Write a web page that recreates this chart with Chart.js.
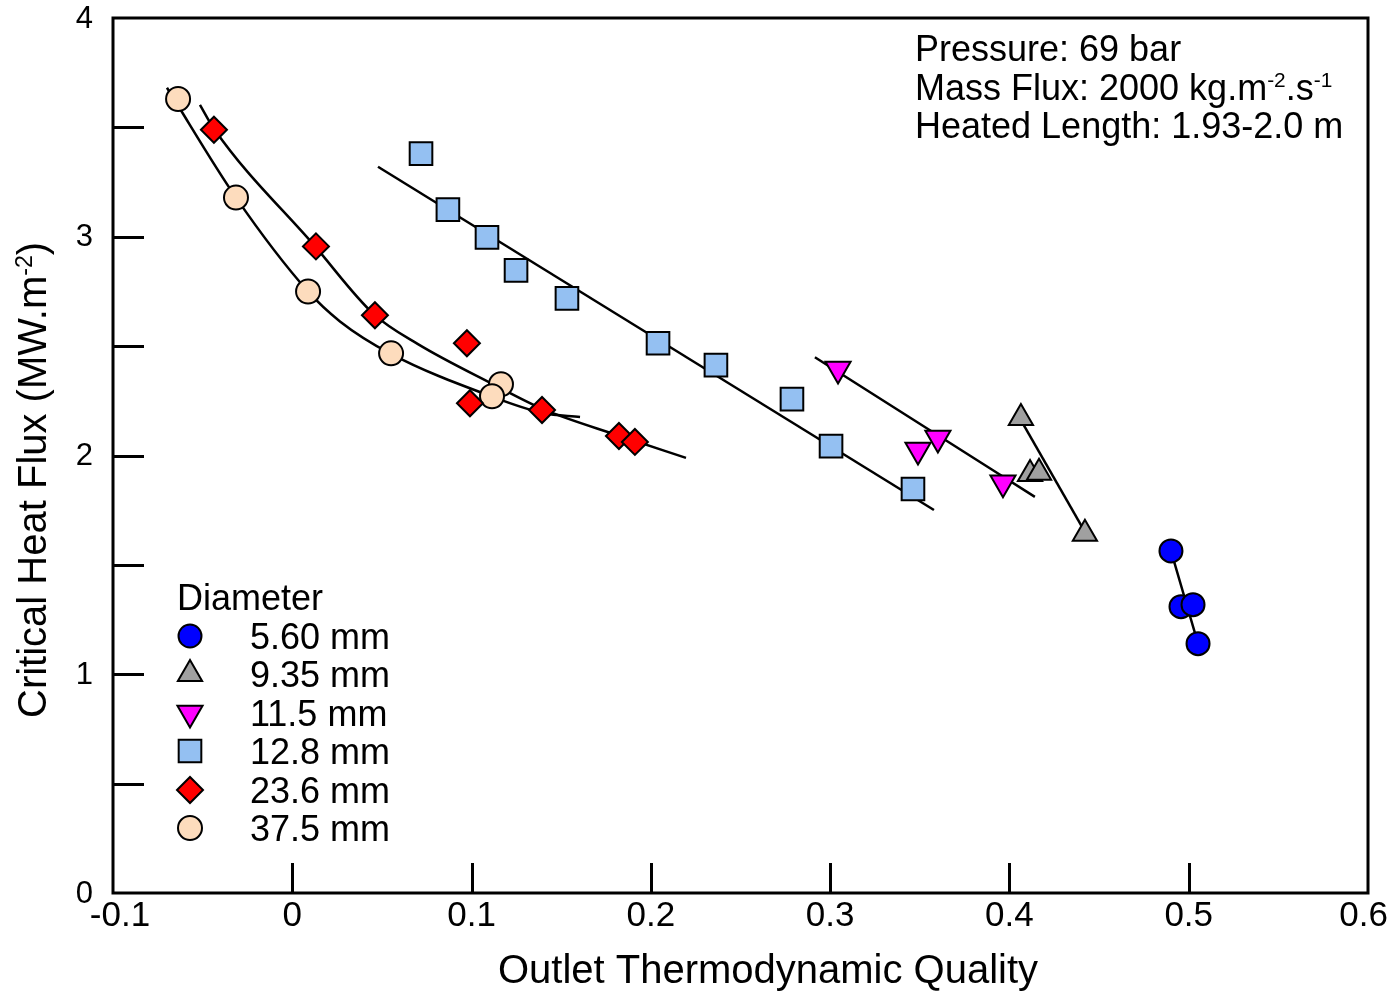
<!DOCTYPE html>
<html>
<head>
<meta charset="utf-8">
<script src="https://cdn.jsdelivr.net/npm/chart.js@4.4.0/dist/chart.umd.min.js"></script>
<style>
  html, body { margin: 0; padding: 0; background: #fff; }
  #wrap { width: 1391px; height: 992px; }
</style>
</head>
<body>
<div id="wrap"><canvas id="chf" width="1391" height="992"></canvas></div>
<script>
// axis ranges
const xMin = -0.1, xMax = 0.6, xStep = 0.1;
const yMin = 0, yMax = 4, yStep = 0.5;

// measured points, one pair of arrays per tube diameter
const d560X = [0.4901, 0.4957, 0.5024, 0.5052];
const d560Y = [1.564, 1.309, 1.318, 1.140];
const d935X = [0.4064, 0.4115, 0.4165, 0.4421];
const d935Y = [2.171, 1.916, 1.921, 1.642];
const d115X = [0.3044, 0.3490, 0.3601, 0.3964];
const d115Y = [2.395, 2.025, 2.080, 1.875];
const d128X = [0.0718, 0.0868, 0.1086, 0.1248, 0.1532, 0.2040, 0.2363, 0.2787, 0.3005, 0.3462];
const d128Y = [3.380, 3.124, 2.997, 2.846, 2.718, 2.513, 2.413, 2.258, 2.043, 1.847];
const d236X = [-0.0437, 0.0132, 0.0461, 0.0974, 0.0991, 0.1393, 0.1822, 0.1911];
const d236Y = [3.489, 2.956, 2.641, 2.513, 2.239, 2.208, 2.089, 2.062];
const d375X = [-0.0637, -0.0314, 0.0088, 0.0551, 0.1164, 0.1114];
const d375Y = [3.630, 3.179, 2.750, 2.467, 2.326, 2.271];

// fitted trend lines
const fit560X = [0.4901, 0.5052];
const fit560Y = [1.564, 1.140];
const fit935X = [0.4064, 0.4421];
const fit935Y = [2.162, 1.651];
const fit115X = [0.2915, 0.4142];
const fit115Y = [2.449, 1.811];
const fit128X = [0.0478, 0.3579];
const fit128Y = [3.320, 1.751];
const fit236X = [-0.0515, -0.0437, 0.0127, 0.0456, 0.0701, 0.1119, 0.1398, 0.1828, 0.2196];
const fit236Y = [3.603, 3.494, 2.956, 2.645, 2.509, 2.326, 2.212, 2.089, 1.989];
const fit375X = [-0.0699, -0.0314, 0.0088, 0.0266, 0.0545, 0.1108, 0.1398, 0.1605];
const fit375Y = [3.681, 3.179, 2.750, 2.613, 2.467, 2.271, 2.194, 2.176];

const legendTitle = 'Diameter';
const seriesLabels = ['5.60 mm', '9.35 mm', '11.5 mm', '12.8 mm', '23.6 mm', '37.5 mm'];
const infoLines = ['Pressure: 69 bar', 'Mass Flux: 2000 kg.m', 'Heated Length: 1.93-2.0 m'];

const FONT = "'Liberation Sans', Arial, sans-serif";

const toXY = (xs, ys) => xs.map((x, i) => ({ x: x, y: ys[i] }));

const styles = [
  { fill: '#0000ff', pointStyle: 'circle', radius: 11.5, rotation: 0 },
  { fill: '#a0a0a0', pointStyle: 'triangle', radius: 14, rotation: 0 },
  { fill: '#ff00ff', pointStyle: 'triangle', radius: 14.5, rotation: 180 },
  { fill: '#94c0f2', pointStyle: 'rect', radius: 16, rotation: 0 },
  { fill: '#ff0000', pointStyle: 'rectRot', radius: 13, rotation: 0 },
  { fill: '#fddcbd', pointStyle: 'circle', radius: 12, rotation: 0 }
];

const pointSets = [toXY(d560X, d560Y), toXY(d935X, d935Y), toXY(d115X, d115Y),
                   toXY(d128X, d128Y), toXY(d236X, d236Y), toXY(d375X, d375Y)];
const fitSets = [toXY(fit560X, fit560Y), toXY(fit935X, fit935Y), toXY(fit115X, fit115Y),
                 toXY(fit128X, fit128Y), toXY(fit236X, fit236Y), toXY(fit375X, fit375Y)];

const datasets = [];
fitSets.forEach((pts, i) => {
  datasets.push({
    label: 'fit ' + seriesLabels[i],
    data: pts,
    showLine: true,
    borderColor: '#000',
    borderWidth: 2.5,
    pointRadius: 0,
    cubicInterpolationMode: 'monotone',
    order: 2
  });
});
pointSets.forEach((pts, i) => {
  const s = styles[i];
  datasets.push({
    label: seriesLabels[i],
    data: pts,
    showLine: false,
    pointStyle: s.pointStyle,
    pointRotation: s.rotation,
    pointRadius: s.radius,
    pointBackgroundColor: s.fill,
    pointBorderColor: '#000',
    pointBorderWidth: 2,
    order: 1
  });
});

// text with superscript pieces, drawn left to right from (x, y)
function drawParts(ctx, parts, x, y, size) {
  let cx = x;
  parts.forEach(p => {
    const fs = p.sup ? size * 0.58 : size;
    ctx.font = fs + 'px ' + FONT;
    ctx.fillText(p.t, cx, p.sup ? y - size * 0.36 : y);
    cx += ctx.measureText(p.t).width;
  });
  return cx;
}

const decorPlugin = {
  id: 'decor',
  afterDraw(chart) {
    const { ctx, chartArea: a, scales } = chart;
    const xs = scales.x, ys = scales.y;
    ctx.save();
    ctx.strokeStyle = '#000';
    ctx.fillStyle = '#000';

    // inward tick marks
    ctx.lineWidth = 3;
    ctx.beginPath();
    ys.ticks.forEach(t => {
      if (t.value <= yMin || t.value >= yMax) return;
      const py = Math.round(ys.getPixelForValue(t.value)) + 0.5;
      ctx.moveTo(a.left, py);
      ctx.lineTo(a.left + 31, py);
    });
    xs.ticks.forEach(t => {
      if (t.value <= xMin + 1e-9 || t.value >= xMax - 1e-9) return;
      const px = Math.round(xs.getPixelForValue(t.value)) + 0.5;
      ctx.moveTo(px, a.bottom);
      ctx.lineTo(px, a.bottom - 30);
    });
    ctx.stroke();

    // frame
    ctx.strokeRect(a.left, a.top, a.right - a.left, a.bottom - a.top);

    // tick labels
    ctx.textBaseline = 'middle';
    ctx.textAlign = 'right';
    ctx.font = '31px ' + FONT;
    ys.ticks.forEach(t => {
      if (Math.abs(t.value - Math.round(t.value)) > 1e-9) return;
      ctx.fillText(String(Math.round(t.value)), a.left - 20, ys.getPixelForValue(t.value) + 1);
    });
    ctx.textAlign = 'center';
    ctx.font = '35px ' + FONT;
    xs.ticks.forEach(t => {
      const txt = String(+t.value.toFixed(1));
      const half = ctx.measureText(txt).width / 2;
      let px = xs.getPixelForValue(t.value);
      px = Math.max(px, a.left + 7);
      px = Math.min(px, chart.width - half - 3);
      ctx.fillText(txt, px, a.bottom + 23);
    });

    // axis titles
    ctx.textBaseline = 'alphabetic';
    ctx.font = '40px ' + FONT;
    ctx.fillText('Outlet Thermodynamic Quality', 768, 983);

    ctx.save();
    ctx.translate(46, 718);
    ctx.rotate(-Math.PI / 2);
    ctx.textAlign = 'left';
    drawParts(ctx, [{ t: 'Critical Heat Flux (MW.m' }, { t: '-2', sup: true }, { t: ')' }], 0, 0, 40);
    ctx.restore();

    // condition box text
    ctx.textAlign = 'left';
    ctx.font = '36px ' + FONT;
    ctx.fillText(infoLines[0], 915, 61);
    drawParts(ctx, [{ t: infoLines[1] }, { t: '-2', sup: true }, { t: '.s' }, { t: '-1', sup: true }], 915, 100, 36);
    ctx.font = '36px ' + FONT;
    ctx.fillText(infoLines[2], 915, 138);

    // legend
    ctx.fillText(legendTitle, 177, 610);
    const rows = [636, 674, 713, 751, 790, 828];
    styles.forEach((s, i) => {
      ctx.fillStyle = s.fill;
      ctx.strokeStyle = '#000';
      ctx.lineWidth = 2;
      Chart.helpers.drawPoint(ctx, { pointStyle: s.pointStyle, rotation: s.rotation, radius: s.radius, borderWidth: 2 }, 190, rows[i]);
      ctx.fillStyle = '#000';
      ctx.font = '36px ' + FONT;
      ctx.fillText(seriesLabels[i], 250, rows[i] + 13);
    });
    ctx.restore();
  }
};

new Chart(document.getElementById('chf'), {
  type: 'scatter',
  data: { datasets: datasets },
  options: {
    responsive: false,
    animation: false,
    layout: { padding: { top: 16, right: 23, left: 0, bottom: 0 } },
    plugins: { legend: { display: false }, tooltip: { enabled: false } },
    scales: {
      x: {
        type: 'linear',
        min: xMin,
        max: xMax,
        afterFit: s => { s.height = 99; },
        grid: { display: false, drawTicks: false },
        border: { display: false },
        ticks: { stepSize: xStep, display: false }
      },
      y: {
        type: 'linear',
        min: yMin,
        max: yMax,
        afterFit: s => { s.width = 113; },
        grid: { display: false, drawTicks: false },
        border: { display: false },
        ticks: { stepSize: yStep, display: false }
      }
    }
  },
  plugins: [decorPlugin]
});
</script>
</body>
</html>
